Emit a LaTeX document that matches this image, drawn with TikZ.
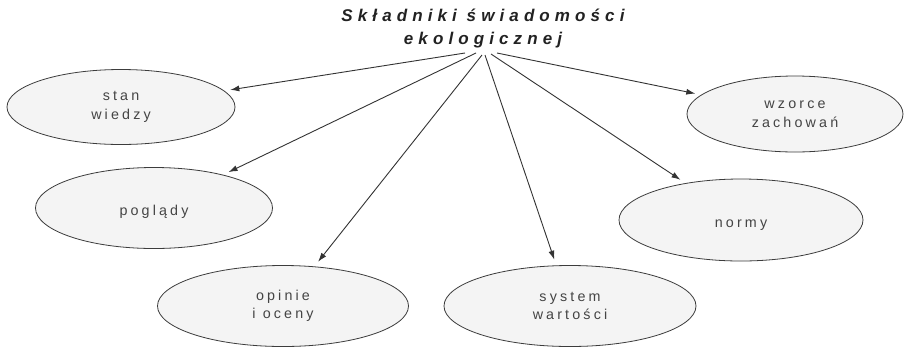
\documentclass[tikz,border=0pt]{standalone}
\usepackage{fontspec}
\setmainfont{Liberation Sans}
\usetikzlibrary{shapes.geometric,arrows.meta}
\definecolor{ellfill}{HTML}{F4F4F4}
\definecolor{ellline}{HTML}{3C3C3C}
\definecolor{arrline}{HTML}{333333}
\definecolor{txt}{HTML}{444444}
\definecolor{ttl}{HTML}{222222}
\begin{document}
\begin{tikzpicture}[x=1pt,y=-1pt,
  bubble/.style={ellipse,draw=ellline,line width=0.8pt,fill=ellfill,inner sep=0pt,
    align=center,text=txt,font=\fontsize{14.3}{18.5}\selectfont\addfontfeature{LetterSpace=22},
    execute at begin node={\rule{0pt}{18pt}}},
  arr/.style={draw=arrline,line width=0.9pt,-{Latex[length=9pt,width=6pt]},shorten >=6pt}]
\useasboundingbox[fill=white] (0,0) rectangle (908,349);
\node[font=\fontsize{17}{23}\selectfont\bfseries\itshape\addfontfeature{LetterSpace=30},text=ttl,align=center,inner sep=0pt]
  (title) at (483,29) {Składniki świadomości\\ekologicznej};
\node[bubble,minimum width=228pt,minimum height=75pt] (sw) at (121,107) {stan\\wiedzy};
\node[bubble,minimum width=216pt,minimum height=76pt] (wz) at (795,114) {wzorce\\zachowań};
\node[bubble,minimum width=237pt,minimum height=81pt] (pg) at (154,208) {poglądy};
\node[bubble,minimum width=251pt,minimum height=81pt] (op) at (283,306) {opinie\\i oceny};
\node[bubble,minimum width=252pt,minimum height=81pt] (sy) at (570,306) {system\\wartości};
\node[bubble,minimum width=244pt,minimum height=82pt] (nr) at (741,220) {normy};
\coordinate (s1) at (465,53);
\coordinate (s2) at (476,53);
\coordinate (s3) at (482,55);
\coordinate (s4) at (485,55);
\coordinate (s5) at (491,54);
\coordinate (s6) at (497,53);
\draw[arr] (s1) -- (sw);
\draw[arr] (s2) -- (pg);
\draw[arr] (s3) -- (op);
\draw[arr] (s4) -- (sy);
\draw[arr] (s5) -- (nr);
\draw[arr] (s6) -- (wz);
\end{tikzpicture}
\end{document}
